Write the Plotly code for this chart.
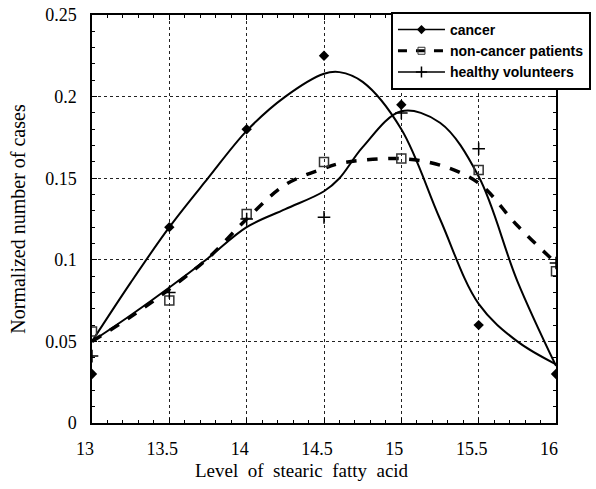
import plotly.graph_objects as go

# measured data points
x_pts = [13, 13.5, 14, 14.5, 15, 15.5, 16]
cancer_pts = [0.030, 0.120, 0.180, 0.225, 0.195, 0.060, 0.030]
noncancer_pts = [0.056, 0.075, 0.128, 0.160, 0.162, 0.155, 0.093]
healthy_pts = [0.041, 0.080, 0.125, 0.126, 0.190, 0.168, 0.098]

# fitted curves
x_curve = [13, 13.25, 13.5, 13.75, 14, 14.25, 14.5, 14.6, 14.75, 15, 15.25, 15.5, 15.75, 16]
cancer_curve = [0.050, 0.086, 0.120, 0.150, 0.179, 0.200, 0.214, 0.215, 0.209, 0.180, 0.125, 0.073, 0.050, 0.036]
noncancer_curve = [0.050, 0.065, 0.082, 0.101, 0.125, 0.146, 0.156, 0.159, 0.161, 0.162, 0.158, 0.147, 0.121, 0.098]
healthy_curve = [0.050, 0.066, 0.083, 0.101, 0.120, 0.131, 0.142, 0.150, 0.169, 0.191, 0.184, 0.151, 0.087, 0.035]

x_ticks = [13, 13.5, 14, 14.5, 15, 15.5, 16]
y_ticks = [0, 0.05, 0.1, 0.15, 0.2, 0.25]
y_tick_text = ["0", "0.05", "0.1", "0.15", "0.2", "0.25"]

fig = go.Figure()

# curves
fig.add_trace(go.Scatter(x=x_curve, y=cancer_curve, mode="lines", line=dict(color="black", width=2, shape="spline", smoothing=1.0), showlegend=False, hoverinfo="skip"))
fig.add_trace(go.Scatter(x=x_curve, y=noncancer_curve, mode="lines", line=dict(color="black", width=3.5, dash="dash", shape="spline", smoothing=1.0), showlegend=False, hoverinfo="skip"))
fig.add_trace(go.Scatter(x=x_curve, y=healthy_curve, mode="lines", line=dict(color="black", width=2, shape="spline", smoothing=1.0), showlegend=False, hoverinfo="skip"))

# markers
fig.add_trace(go.Scatter(x=x_pts, y=cancer_pts, mode="markers", marker=dict(symbol="diamond", size=8, color="black"), showlegend=False))
fig.add_trace(go.Scatter(x=x_pts, y=noncancer_pts, mode="markers", marker=dict(symbol="square-open", size=9, color="#333333", line=dict(width=1.5)), showlegend=False))
fig.add_trace(go.Scatter(x=x_pts, y=healthy_pts, mode="markers", marker=dict(symbol="cross-thin", size=9, color="black", line=dict(width=1.5, color="black")), showlegend=False))

# legend entries
fig.add_trace(go.Scatter(x=[None], y=[None], mode="lines+markers", name="cancer", line=dict(color="black", width=1.5), marker=dict(symbol="diamond", size=7, color="black")))
fig.add_trace(go.Scatter(x=[None], y=[None], mode="lines+markers", name="non-cancer patients", line=dict(color="black", width=3, dash="dash"), marker=dict(symbol="square-open", size=7, color="#333333")))
fig.add_trace(go.Scatter(x=[None], y=[None], mode="lines+markers", name="healthy volunteers", line=dict(color="black", width=1.5), marker=dict(symbol="cross-thin", size=8, color="black", line=dict(width=1.5, color="black"))))

serif = "Liberation Serif"
axis_common = dict(
    showline=True, linecolor="black", linewidth=1.5, mirror="ticks",
    showgrid=True, gridcolor="#222222", gridwidth=1, griddash="dot",
    ticks="inside", ticklen=5, tickcolor="black", zeroline=False,
    tickfont=dict(family=serif, size=18, color="black"),
)

fig.update_layout(
    width=596, height=489,
    margin=dict(l=92, r=40, t=15, b=66, autoexpand=False),
    plot_bgcolor="white", paper_bgcolor="white",
    xaxis=dict(range=[13, 16], tickvals=x_ticks, ticktext=[str(v) for v in x_ticks],
               minor=dict(dtick=0.1, ticks="inside", ticklen=3, tickcolor="black", showgrid=False),
               ticklabelstandoff=9, ticklabelshift=-7, automargin=False, **axis_common),
    yaxis=dict(range=[0, 0.25], tickvals=y_ticks, ticktext=y_tick_text,
               minor=dict(dtick=0.01, ticks="inside", ticklen=3, tickcolor="black", showgrid=False),
               title=dict(text="Normalized number of cases", font=dict(family=serif, size=20, color="black"), standoff=14),
               ticklabelstandoff=10, automargin=False, **axis_common),
    legend=dict(xref="container", yref="container", x=0.656, y=0.9755, xanchor="left", yanchor="top",
                bgcolor="white", bordercolor="black", borderwidth=2,
                font=dict(family="Liberation Sans", size=14, color="black", weight="bold"),
                tracegroupgap=0, itemwidth=47),
    annotations=[dict(text="Level  of  stearic  fatty  acid", xref="paper", yref="paper",
                      x=0.4526, y=-0.116, xanchor="center", yanchor="middle", showarrow=False,
                      font=dict(family=serif, size=19, color="black"))],
)

fig.write_html("out.html")
